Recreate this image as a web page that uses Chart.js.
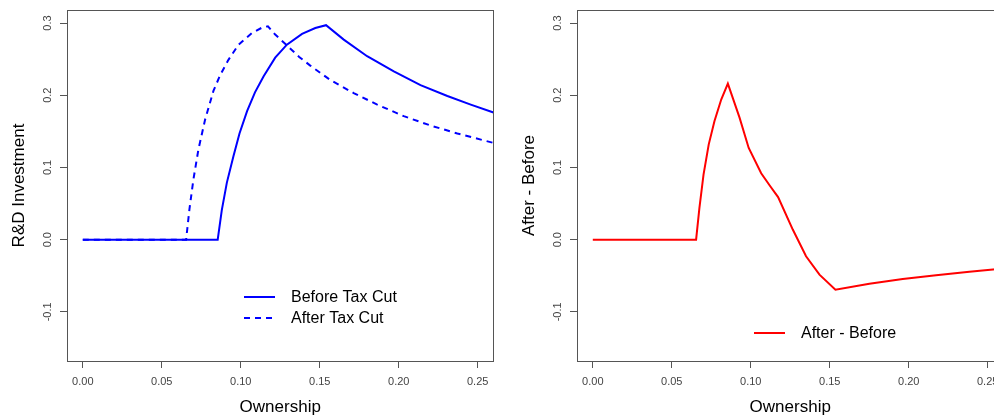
<!DOCTYPE html>
<html>
<head>
<meta charset="utf-8">
<script src="https://cdn.jsdelivr.net/npm/chart.js@4"></script>
<style>
  html, body { margin: 0; padding: 0; background: #fff; }
  body { width: 994px; height: 416px; overflow: hidden; position: relative; }
  .panel { position: absolute; top: 0; width: 510px; height: 416px; }
  #leftPanel { left: 0; }
  #rightPanel { left: 510px; }
</style>
</head>
<body>
<div class="panel" id="leftPanel"><canvas id="rdChart" width="510" height="416"></canvas></div>
<div class="panel" id="rightPanel"><canvas id="diffChart" width="510" height="416"></canvas></div>
<script>
// values
const beforeX = [0, 0.0854, 0.0880, 0.0912, 0.0954, 0.0992, 0.1040, 0.1090, 0.1144, 0.1218, 0.1292, 0.1388, 0.1472, 0.1540, 0.1652, 0.1800, 0.1969, 0.2138, 0.2308, 0.2456, 0.2600];
const beforeY = [0, 0, 0.041, 0.079, 0.116, 0.147, 0.178, 0.204, 0.226, 0.252, 0.270, 0.285, 0.293, 0.297, 0.277, 0.254, 0.233, 0.214, 0.199, 0.187, 0.176];

const afterX = [0, 0.0654, 0.0675, 0.0700, 0.0732, 0.0774, 0.0827, 0.0870, 0.0922, 0.0986, 0.1070, 0.1138, 0.1172, 0.1218, 0.1292, 0.1370, 0.1440, 0.1567, 0.1715, 0.1864, 0.2032, 0.2202, 0.2371, 0.2600];
const afterY = [0, 0, 0.042, 0.083, 0.125, 0.166, 0.206, 0.228, 0.249, 0.270, 0.286, 0.294, 0.2955, 0.284, 0.269, 0.253, 0.241, 0.221, 0.203, 0.187, 0.171, 0.158, 0.147, 0.134];

const diffX = [0, 0.0654, 0.0675, 0.0701, 0.0734, 0.0770, 0.0813, 0.0855, 0.0929, 0.0987, 0.1066, 0.1120, 0.1173, 0.1266, 0.1350, 0.1435, 0.1536, 0.1751, 0.1962, 0.2173, 0.2384, 0.2600];
const diffY = [0, 0, 0.044, 0.090, 0.132, 0.164, 0.194, 0.216, 0.169, 0.127, 0.092, 0.075, 0.059, 0.014, -0.023, -0.0485, -0.0693, -0.061, -0.0545, -0.0494, -0.0443, -0.040];

const xTicks = [0, 0.05, 0.10, 0.15, 0.20, 0.25];
const yTicks = [-0.1, 0, 0.1, 0.2, 0.3];
const xRange = [-0.01, 0.26];
const yRange = [-0.168, 0.318];

const FONT = '"Liberation Sans", Arial, sans-serif';
const AXIS_GRAY = '#555';

function toPoints(xs, ys) {
    return xs.map((x, i) => ({ x: x, y: ys[i] }));
}

// frame around the plot region, like R's box()
const boxPlugin = {
    id: 'plotBox',
    afterDraw(chart) {
        const { left, top, right, bottom } = chart.chartArea;
        const ctx = chart.ctx;
        const l = Math.round(left) + 0.5;
        const t = Math.round(top) + 0.5;
        const r = Math.floor(right) + 0.5;
        const b = Math.round(bottom) + 0.5;
        ctx.save();
        ctx.strokeStyle = AXIS_GRAY;
        ctx.lineWidth = 1;
        ctx.strokeRect(l, t, r - l, b - t);
        ctx.restore();
    }
};

// borderless legend inside the plot
const plainLegend = {
    id: 'plainLegend',
    afterDatasetsDraw(chart, args, opts) {
        const ctx = chart.ctx;
        ctx.save();
        chart.data.datasets.forEach((ds, i) => {
            const y = opts.top + i * opts.rowHeight;
            ctx.strokeStyle = ds.borderColor;
            ctx.lineWidth = ds.borderWidth;
            ctx.setLineDash(ds.borderDash || []);
            ctx.beginPath();
            ctx.moveTo(opts.lineStart, y);
            ctx.lineTo(opts.lineEnd, y);
            ctx.stroke();
            ctx.setLineDash([]);
            ctx.fillStyle = '#000';
            ctx.font = '16px ' + FONT;
            ctx.textBaseline = 'middle';
            ctx.textAlign = 'left';
            ctx.fillText(ds.label, opts.textStart, y + 1);
        });
        ctx.restore();
    }
};

function fixedTicks(values) {
    return scale => {
        scale.ticks = values.map(v => ({ value: v }));
    };
}

function makeOptions(yTitle, legendTop) {
    return {
        responsive: false,
        animation: false,
        events: [],
        layout: { padding: { top: 10, right: 16.5, left: 0, bottom: 0 } },
        scales: {
            x: {
                type: 'linear',
                min: xRange[0],
                max: xRange[1],
                afterBuildTicks: fixedTicks(xTicks),
                afterFit: scale => {
                    scale.height = 55;
                    scale.paddingLeft = scale.paddingRight = 0;
                },
                border: { display: false },
                grid: { drawOnChartArea: false, drawTicks: true, tickLength: 7, color: AXIS_GRAY },
                ticks: {
                    padding: 7,
                    color: '#444',
                    font: { family: FONT, size: 11 },
                    maxRotation: 0,
                    callback: v => v.toFixed(2)
                },
                title: {
                    display: true,
                    text: 'Ownership',
                    color: '#000',
                    font: { family: FONT, size: 17, lineHeight: 1 },
                    padding: { top: 0, bottom: 0 }
                }
            },
            y: {
                type: 'linear',
                min: yRange[0],
                max: yRange[1],
                afterBuildTicks: fixedTicks(yTicks),
                afterFit: scale => {
                    scale.width = 67;
                    scale.paddingTop = scale.paddingBottom = 0;
                },
                border: { display: false },
                grid: { drawOnChartArea: false, drawTicks: true, tickLength: 7, color: AXIS_GRAY },
                ticks: {
                    padding: 3,
                    color: '#444',
                    font: { family: FONT, size: 11 },
                    minRotation: 90,
                    maxRotation: 90,
                    crossAlign: 'center',
                    callback: v => v.toFixed(1)
                },
                title: {
                    display: true,
                    text: yTitle,
                    color: '#000',
                    font: { family: FONT, size: 17, lineHeight: 1 },
                    padding: { top: 10.5, bottom: 0 }
                }
            }
        },
        plugins: {
            legend: { display: false },
            tooltip: { enabled: false },
            plainLegend: { top: legendTop, rowHeight: 21, lineStart: 244, lineEnd: 275, textStart: 291 }
        }
    };
}

function lineDataset(label, xs, ys, color, dash) {
    return {
        label: label,
        data: toPoints(xs, ys),
        showLine: true,
        borderColor: color,
        borderWidth: 2,
        borderDash: dash,
        pointRadius: 0,
        tension: 0,
        fill: false
    };
}

new Chart(document.getElementById('rdChart'), {
    type: 'scatter',
    data: {
        datasets: [
            lineDataset('Before Tax Cut', beforeX, beforeY, '#0000FF', []),
            lineDataset('After Tax Cut', afterX, afterY, '#0000FF', [6, 5])
        ]
    },
    options: makeOptions('R&D Investment', 297),
    plugins: [boxPlugin, plainLegend]
});

new Chart(document.getElementById('diffChart'), {
    type: 'scatter',
    data: {
        datasets: [
            lineDataset('After - Before', diffX, diffY, '#FF0000', [])
        ]
    },
    options: makeOptions('After - Before', 333),
    plugins: [boxPlugin, plainLegend]
});
</script>
</body>
</html>
